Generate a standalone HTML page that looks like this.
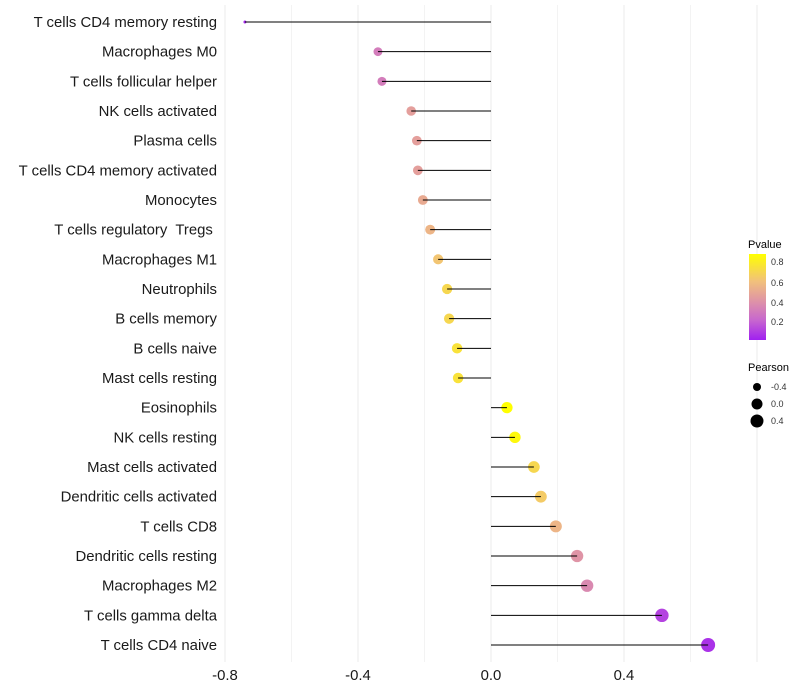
<!DOCTYPE html>
<html><head><meta charset="utf-8"><style>
body{margin:0;background:#fff;}
svg{display:block;font-family:"Liberation Sans",sans-serif;}
</style></head><body>
<svg id="chart" width="800" height="700">
<defs><linearGradient id="pg" x1="0" y1="1" x2="0" y2="0">
<stop offset="0" stop-color="#a020f0"/><stop offset="0.227" stop-color="#c766cf"/><stop offset="0.455" stop-color="#df94a6"/><stop offset="0.68" stop-color="#f1c07c"/><stop offset="1" stop-color="#ffff00"/></linearGradient></defs>
<g id="grid"></g><g id="marks"></g><g id="ylab"></g><g id="xlab"></g>
<g>
<text x="748" y="248" font-size="11">Pvalue</text>
<rect x="749" y="254" width="17" height="86" fill="url(#pg)"/>
<g font-size="9" fill="#333">
<text x="771" y="265">0.8</text><text x="771" y="286">0.6</text><text x="771" y="306">0.4</text><text x="771" y="325">0.2</text></g>
<text x="748" y="371" font-size="11">Pearson</text>
<circle cx="757" cy="387" r="4" fill="#000"/>
<circle cx="757" cy="404" r="5.5" fill="#000"/>
<circle cx="757" cy="421" r="6.5" fill="#000"/>
<g font-size="9" fill="#333"><text x="771" y="390">-0.4</text><text x="771" y="407">0.0</text><text x="771" y="424">0.4</text></g>
</g>
</svg>
<script>
const categories=["T cells CD4 memory resting","Macrophages M0","T cells follicular helper","NK cells activated","Plasma cells","T cells CD4 memory activated","Monocytes","T cells regulatory  Tregs ","Macrophages M1","Neutrophils","B cells memory","B cells naive","Mast cells resting","Eosinophils","NK cells resting","Mast cells activated","Dendritic cells activated","T cells CD8","Dendritic cells resting","Macrophages M2","T cells gamma delta","T cells CD4 naive"];
const pearson=[-0.74,-0.34,-0.328,-0.24,-0.223,-0.22,-0.205,-0.183,-0.159,-0.132,-0.126,-0.102,-0.099,0.048,0.072,0.129,0.150,0.195,0.259,0.289,0.514,0.653];
const pvalue=[0.02,0.3,0.3,0.45,0.45,0.45,0.5,0.55,0.62,0.7,0.7,0.75,0.75,0.88,0.85,0.7,0.65,0.55,0.4,0.35,0.1,0.05];
const xTicks=[-0.8,-0.4,0.0,0.4];
const xTickLabels=["-0.8","-0.4","0.0","0.4"];
const NS="http://www.w3.org/2000/svg";
const x=v=>491+v*332.5;
const y=i=>22+i*(623/21);
function mk(t,a,p){const e=document.createElementNS(NS,t);for(const k in a)e.setAttribute(k,a[k]);p.appendChild(e);return e;}
const stops=[[0,[160,32,240]],[0.2,[199,102,207]],[0.4,[223,148,166]],[0.6,[241,192,124]],[0.88,[255,255,0]]];
function col(p){p=Math.max(0,Math.min(0.88,p));for(let i=1;i<stops.length;i++){if(p<=stops[i][0]){const a=stops[i-1],b=stops[i],t=(p-a[0])/(b[0]-a[0]);return "rgb("+a[1].map((c,j)=>Math.round(c+(b[1][j]-c)*t)).join(",")+")";}}return "#ff0";}
const g=document.getElementById('grid'),m=document.getElementById('marks'),yl=document.getElementById('ylab'),xl=document.getElementById('xlab');
for(let v=-0.8;v<=0.81;v+=0.2){const l=mk('line',{x1:x(v),x2:x(v),y1:5,y2:662,stroke:'#ebebeb','stroke-width':Math.abs(Math.round(v*10))%4==0?1:0.6},g);}
const pmin=Math.min(...pearson),pmax=Math.max(...pearson);
categories.forEach((c,i)=>{
 const r=1.5+5.5*Math.sqrt((pearson[i]-pmin)/(pmax-pmin));
 const pt=mk('circle',{cx:x(pearson[i]),cy:y(i),r:r,fill:col(pvalue[i])},m);
 
 const ln=mk('line',{x1:x(0),x2:x(pearson[i]),y1:y(i),y2:y(i),stroke:'#000','stroke-width':1},m);
 
 const t=mk('text',{x:217,y:y(i)+5,'text-anchor':'end','font-size':14.9,fill:'#1a1a1a'},yl);t.textContent=c;
 t.style.whiteSpace='pre';
 
});
xTicks.forEach((v,i)=>{const t=mk('text',{x:x(v),y:680,'text-anchor':'middle','font-size':14.9,fill:'#1a1a1a'},xl);t.textContent=xTickLabels[i];
 });
</script>
</body></html>
